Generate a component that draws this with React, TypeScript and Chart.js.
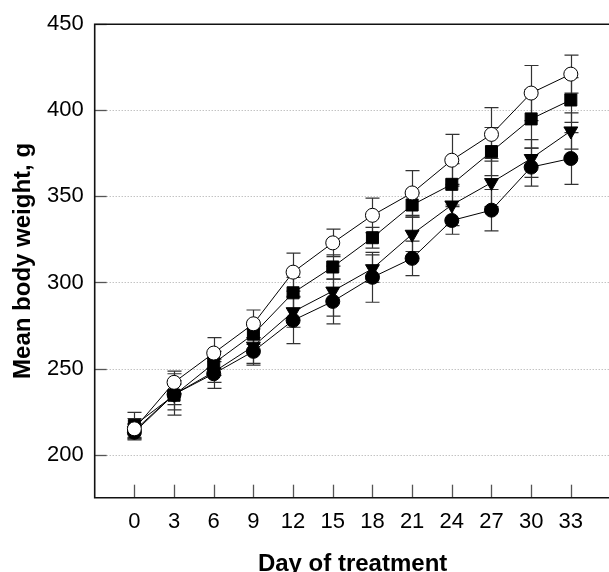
import React, { useEffect, useRef } from "react";
import { Chart, registerables } from "chart.js";

Chart.register(...registerables);

// ---- Data ----
const days = [0, 3, 6, 9, 12, 15, 18, 21, 24, 27, 30, 33];

const openCircleMean = [215, 242, 259, 276, 306, 323, 339, 352, 371, 386, 410, 421];
const openCircleSd = [6, 6.5, 9, 8, 11, 8, 10, 13, 15, 15.5, 16, 11];

const squareMean = [217, 234.5, 253, 270, 294, 309, 326, 345, 357, 376, 395, 406];
const squareSd = [7.5, 8.5, 7, 6, 9, 7, 6, 7, 12, 14, 17, 13];

const triangleMean = [214, 235, 248, 263, 283, 295, 308, 328, 345, 358, 372, 388];
const triangleSd = [4, 6, 6, 10, 9, 14.5, 8, 10, 12, 14, 11, 10.5];

const filledCircleMean = [213, 235, 247, 260, 278, 289, 303, 314, 336, 342, 367, 372];
const filledCircleSd = [4.5, 12, 8.5, 8, 13.5, 13, 14.5, 10, 8, 12, 11, 15];

const yTickValues = [200, 250, 300, 350, 400, 450];
const xTickValues = days;

const xTitle = "Day of treatment";
const yTitle = "Mean body weight, g";

const FONT = '"Liberation Sans", Arial, Helvetica, sans-serif';

type Series = { mean: number[]; sd: number[]; style: string; fill: string; radius: number; rotation: number };

const seriesList: Series[] = [
  { mean: openCircleMean, sd: openCircleSd, style: "circle", fill: "#ffffff", radius: 7, rotation: 0 },
  { mean: squareMean, sd: squareSd, style: "rect", fill: "#000000", radius: 8.5, rotation: 0 },
  { mean: triangleMean, sd: triangleSd, style: "triangle", fill: "#000000", radius: 8, rotation: 180 },
  { mean: filledCircleMean, sd: filledCircleSd, style: "circle", fill: "#000000", radius: 7, rotation: 0 },
];

const framePlugin = {
  id: "frame",
  beforeDatasetsDraw(chart: any) {
    const { ctx, chartArea: a, scales } = chart;
    const x = scales.x;
    const y = scales.y;
    ctx.save();
    // dotted grid lines
    ctx.strokeStyle = "#a8a8a8";
    ctx.lineWidth = 1;
    ctx.setLineDash([1, 2]);
    yTickValues.forEach((v) => {
      if (v >= 450) return;
      const py = Math.round(y.getPixelForValue(v)) + 0.5;
      ctx.beginPath();
      ctx.moveTo(a.left + 12, py);
      ctx.lineTo(a.right, py);
      ctx.stroke();
    });
    ctx.setLineDash([]);
    // inward ticks
    ctx.strokeStyle = "#555";
    ctx.lineWidth = 1.3;
    yTickValues.forEach((v) => {
      const py = Math.round(y.getPixelForValue(v)) + 0.5;
      ctx.beginPath();
      ctx.moveTo(a.left, py);
      ctx.lineTo(a.left + 12, py);
      ctx.stroke();
    });
    xTickValues.forEach((v) => {
      const px = Math.round(x.getPixelForValue(v)) + 0.5;
      ctx.beginPath();
      ctx.moveTo(px, a.bottom);
      ctx.lineTo(px, a.bottom - 13);
      ctx.stroke();
    });
    // frame
    ctx.strokeStyle = "#111";
    ctx.lineWidth = 1.6;
    ctx.beginPath();
    ctx.moveTo(a.left, a.top);
    ctx.lineTo(a.right, a.top);
    ctx.lineTo(a.right, a.bottom);
    ctx.lineTo(a.left, a.bottom);
    ctx.closePath();
    ctx.stroke();

    // error bars (under markers)
    ctx.strokeStyle = "#333";
    ctx.lineWidth = 1.2;
    seriesList.forEach((s) => {
      s.mean.forEach((m, i) => {
        const px = Math.round(x.getPixelForValue(days[i])) + 0.5;
        const yt = y.getPixelForValue(m + s.sd[i]);
        const yb = y.getPixelForValue(m - s.sd[i]);
        ctx.beginPath();
        ctx.moveTo(px, yt);
        ctx.lineTo(px, yb);
        ctx.moveTo(px - 7, yt);
        ctx.lineTo(px + 7, yt);
        ctx.moveTo(px - 7, yb);
        ctx.lineTo(px + 7, yb);
        ctx.stroke();
      });
    });

    // titles
    ctx.fillStyle = "#000";
    ctx.font = `bold 24px ${FONT}`;
    ctx.textAlign = "center";
    ctx.textBaseline = "alphabetic";
    ctx.fillText(xTitle, (a.left + a.right) / 2, 570.5);
    ctx.save();
    ctx.translate(30, (a.top + a.bottom) / 2);
    ctx.rotate(-Math.PI / 2);
    ctx.fillText(yTitle, 0, 0);
    ctx.restore();
    ctx.restore();
  },
};

export default function App() {
  const ref = useRef<HTMLCanvasElement | null>(null);

  useEffect(() => {
    if (!ref.current) return;
    const datasets = seriesList.map((s) => ({
      data: s.mean.map((m, i) => ({ x: days[i], y: m })),
      borderColor: "#000",
      borderWidth: 1,
      backgroundColor: s.fill,
      pointStyle: s.style as any,
      pointRadius: s.radius,
      pointHoverRadius: s.radius,
      pointRotation: s.rotation,
      pointBackgroundColor: s.fill,
      pointBorderColor: "#000",
      pointBorderWidth: 1,
      showLine: true,
      fill: false,
      tension: 0,
    }));
    const chart = new Chart(ref.current, {
      type: "line",
      data: { datasets },
      options: {
        responsive: false,
        animation: false,
        devicePixelRatio: 1,
        layout: { padding: { top: 22.7, right: 8, left: 0, bottom: 0 } },
        plugins: { legend: { display: false }, tooltip: { enabled: false } },
        scales: {
          x: {
            type: "linear",
            min: -3,
            max: 36,
            grid: { display: false, drawTicks: false },
            border: { display: false },
            afterBuildTicks: (s: any) => {
              s.ticks = xTickValues.map((v) => ({ value: v }));
            },
            afterFit: (s: any) => {
              s.height = 74.3;
            },
            ticks: {
              autoSkip: false,
              maxRotation: 0,
              padding: 11,
              color: "#000",
              font: { family: FONT, size: 22 },
              callback: (v: any) => String(v),
            },
          },
          y: {
            type: "linear",
            min: 175,
            max: 450,
            grid: { display: false, drawTicks: false },
            border: { display: false },
            afterBuildTicks: (s: any) => {
              s.ticks = yTickValues.map((v) => ({ value: v }));
            },
            afterFit: (s: any) => {
              s.width = 94.7;
            },
            ticks: {
              padding: 11,
              color: "#000",
              font: { family: FONT, size: 22 },
              callback: (v: any) => String(v),
            },
          },
        },
      },
      plugins: [framePlugin],
    });
    return () => chart.destroy();
  }, []);

  return (
    <div style={{ position: "absolute", left: 0, top: 0, width: 609, height: 572, overflow: "hidden", background: "#fff" }}>
      <canvas ref={ref} width={620} height={572} style={{ display: "block" }} />
    </div>
  );
}
